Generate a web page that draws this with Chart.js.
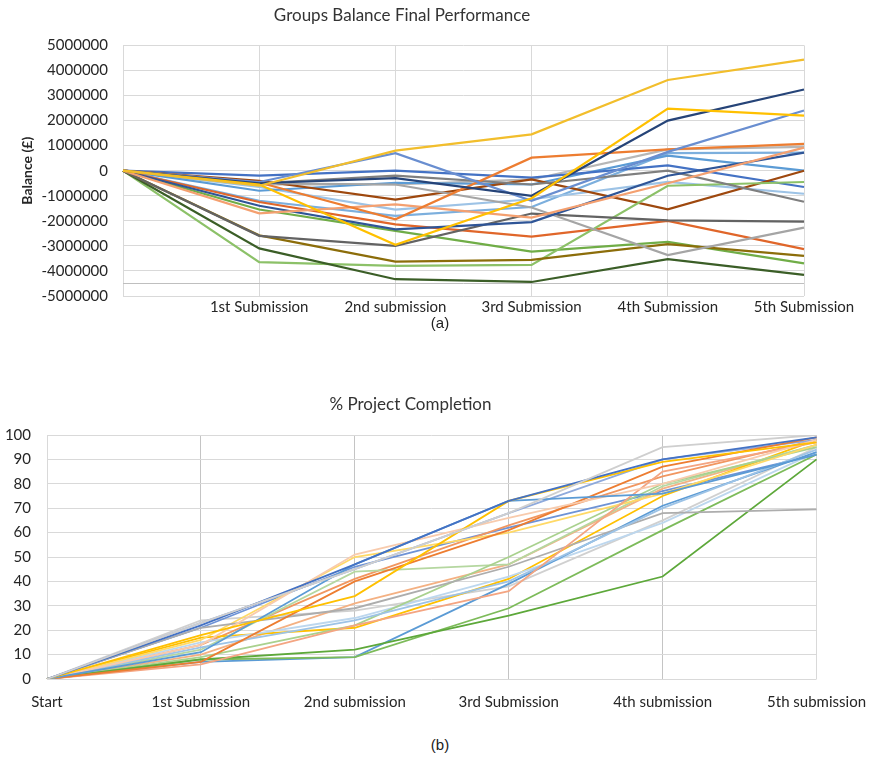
<!DOCTYPE html>
<html>
<head>
<meta charset="utf-8">
<script src="https://cdn.jsdelivr.net/npm/chart.js@4.4.1/dist/chart.umd.min.js"></script>
<style>
  html, body { margin: 0; padding: 0; background: #fff; }
  body { width: 880px; height: 766px; position: relative; overflow: hidden; font-family: 'Liberation Sans', Arial, sans-serif; }
  .wrap { position: absolute; left: 0; width: 880px; }
  #wrap-a { top: 0; height: 320px; }
  #wrap-b { top: 380px; height: 340px; }
  .cap { position: absolute; left: 0; width: 880px; text-align: center; font-size: 15px; color: #222; }
</style>
</head>
<body>
<div class="wrap" id="wrap-a"><canvas id="chart-balance"></canvas></div>
<div class="cap" style="top:314px">(a)</div>
<div class="wrap" id="wrap-b"><canvas id="chart-completion"></canvas></div>
<div class="cap" style="top:736px">(b)</div>
<script>
// ---- (a) group balance, £ ----
const balanceLabels = ['', '1st Submission', '2nd submission', '3rd Submission', '4th Submission', '5th Submission'];
const balanceTicks = { min: -5000000, max: 5000000, step: 1000000 };
const balanceAxisLine = -4500000;

const bal01 = [0, -600000, 800000, 1450000, 3620000, 4430000];
const bal02 = [0, -550000, -2960000, -1100000, 2480000, 2200000];
const bal03 = [0, -500000, -300000, -1000000, 2000000, 3240000];
const bal04 = [0, -450000, 700000, -1200000, 750000, 2400000];
const bal05 = [0, -470000, -1940000, 520000, 850000, 1070000];
const bal06 = [0, -1700000, -1340000, -1870000, -500000, 920000];
const bal07 = [0, -1400000, -2340000, -2050000, -200000, 720000];
const bal08 = [0, -500000, -550000, -1470000, -3370000, -2270000];
const bal09 = [0, -500000, -200000, -550000, 0, -1240000];
const bal10 = [0, -2600000, -3000000, -1710000, -1980000, -2030000];
const bal11 = [0, -2580000, -3630000, -3560000, -2930000, -3400000];
const bal12 = [0, -3100000, -4330000, -4440000, -3530000, -4160000];
const bal13 = [0, -3650000, -3800000, -3760000, -600000, -450000];
const bal14 = [0, -1550000, -2400000, -3230000, -2840000, -3700000];
const bal15 = [0, -1250000, -2140000, -2630000, -2000000, -3130000];
const bal16 = [0, -400000, -1150000, -350000, -1540000, 0];
const bal17 = [0, -200000, 0, -280000, 210000, -650000];
const bal18 = [0, -800000, -480000, -550000, 600000, 0];
const bal19 = [0, -650000, -1550000, -1140000, -450000, -920000];
const bal20 = [0, -550000, -550000, -350000, 850000, 950000];
const bal21 = [0, -1200000, -1800000, -1450000, 700000, 720000];

const balanceSeries = [bal01, bal02, bal03, bal04, bal05, bal06, bal07, bal08, bal09, bal10, bal11,
  bal12, bal13, bal14, bal15, bal16, bal17, bal18, bal19, bal20, bal21];
const balanceColors = ['#F2BE2C', '#FFC000', '#264478', '#698ED0', '#ED7D31', '#F4A070', '#2F5597',
  '#A5A5A5', '#7F7F7F', '#636363', '#8C6D0A', '#3B5E27', '#8CC168', '#70AD47', '#E0662A', '#9E480E',
  '#4472C4', '#5B9BD5', '#9DC3E6', '#B7B7B7', '#7CAFDD'];

// ---- (b) % project completion ----
const completionLabels = ['Start', '1st Submission', '2nd submission', '3rd Submission', '4th submission', '5th submission'];

const pc01 = [0, 23, 45, 68, 95, 100];
const pc02 = [0, 22, 47, 73, 90, 99];
const pc03 = [0, 18, 34, 73, 89, 97];
const pc04 = [0, 11, 47, 73, 76, 92];
const pc05 = [0, 14, 51, 66, 80, 98];
const pc06 = [0, 7, 40, 61, 87, 99];
const pc07 = [0, 6, 22, 36, 85, 97];
const pc08 = [0, 13, 24, 40, 70, 94];
const pc09 = [0, 21, 29, 46, 68, 69.5];
const pc10 = [0, 8, 12, 26, 42, 90];
const pc11 = [0, 8, 9, 29, 61, 92];
const pc12 = [0, 7, 9, 39, 71, 93];
const pc13 = [0, 16, 50, 60, 76, 96];
const pc14 = [0, 9, 22, 50, 80, 95];
const pc15 = [0, 12, 44, 47, 79, 96];
const pc16 = [0, 23, 45, 68, 90, 98];
const pc17 = [0, 15, 25, 42, 64, 93];
const pc18 = [0, 17, 21, 41, 75, 98];
const pc19 = [0, 10, 31, 47, 78, 96];
const pc20 = [0, 14, 41, 63, 83, 98];
const pc21 = [0, 21, 46, 62, 77, 92];
const pc22 = [0, 24, 28, 38, 65, 95];

const completionSeries = [pc01, pc02, pc03, pc04, pc05, pc06, pc07, pc08, pc09, pc10, pc11,
  pc12, pc13, pc14, pc15, pc16, pc17, pc18, pc19, pc20, pc21, pc22];
const completionColors = ['#CFCFCF', '#4472C4', '#FFC000', '#5B9BD5', '#F8CBAD', '#ED7D31', '#F4A582',
  '#9DC3E6', '#ADADAD', '#5DA83A', '#7DBB5A', '#5B9BD5', '#FFD966', '#A9D18E', '#B5D7A0', '#8FAADC',
  '#BDD7EE', '#FFC000', '#F4B183', '#F19660', '#6E93D6', '#D0D0D0'];

Chart.defaults.font.family = "Lato, 'Open Sans', sans-serif";
Chart.defaults.color = '#262626';

// pins axis sizes so the plot area lands where the original one sits
const fixSize = (w) => (scale) => { scale.width = w; };
const fixHeight = (h) => (scale) => { scale.height = h; };

const axisLinePlugin = {
  id: 'axisLine',
  afterDatasetsDraw(chart, args, opts) {
    if (opts.value === undefined) return;
    const { ctx, chartArea, scales } = chart;
    const y = Math.round(scales.y.getPixelForValue(opts.value)) + 0.5;
    ctx.save();
    ctx.strokeStyle = '#bfbfbf';
    ctx.lineWidth = 1;
    ctx.beginPath();
    ctx.moveTo(chartArea.left, y);
    ctx.lineTo(chartArea.right, y);
    ctx.stroke();
    ctx.restore();
  }
};

function makeSets(series, colors, width) {
  return series.map((data, i) => ({
    data: data,
    borderColor: colors[i],
    backgroundColor: colors[i],
    borderWidth: width,
    pointRadius: 0,
    tension: 0,
    fill: false
  }));
}

new Chart(document.getElementById('chart-balance'), {
  type: 'line',
  data: { labels: balanceLabels, datasets: makeSets(balanceSeries, balanceColors, 2.2) },
  plugins: [axisLinePlugin],
  options: {
    responsive: true,
    maintainAspectRatio: false,
    animation: false,
    layout: { padding: { left: 0, right: 76, top: 0, bottom: 0 } },
    plugins: {
      legend: { display: false },
      tooltip: { enabled: false },
      title: {
        display: true,
        text: 'Groups Balance Final Performance',
        color: '#333',
        font: { size: 17, weight: 'normal' },
        padding: { top: 5, bottom: 20 }
      },
      axisLine: { value: balanceAxisLine }
    },
    scales: {
      x: {
        offset: false,
        afterFit: fixHeight(23),
        grid: { color: '#d9d9d9', drawTicks: false },
        border: { display: false },
        ticks: { autoSkip: false, maxRotation: 0, padding: 2, font: { size: 15 }, color: '#262626' }
      },
      y: {
        min: balanceTicks.min,
        max: balanceTicks.max,
        afterFit: fixSize(123),
        grid: { color: '#d9d9d9', drawTicks: false },
        border: { display: false },
        title: {
          display: true,
          text: 'Balance (£)',
          color: '#262626',
          font: { size: 14, weight: 'bold' },
          padding: { top: 19, bottom: 0 }
        },
        ticks: {
          stepSize: balanceTicks.step,
          padding: 15,
          font: { size: 15 },
          color: '#262626',
          callback: (v) => String(v)
        }
      }
    }
  }
});

new Chart(document.getElementById('chart-completion'), {
  type: 'line',
  data: { labels: completionLabels, datasets: makeSets(completionSeries, completionColors, 1.8) },
  options: {
    responsive: true,
    maintainAspectRatio: false,
    animation: false,
    layout: { padding: { left: 0, right: 59, top: 0, bottom: 0 } },
    plugins: {
      legend: { display: false },
      tooltip: { enabled: false },
      title: {
        display: true,
        text: '% Project Completion',
        color: '#333',
        font: { size: 17, weight: 'normal' },
        padding: { top: 14, bottom: 20.6 }
      }
    },
    scales: {
      x: {
        offset: false,
        afterFit: fixHeight(41),
        grid: {
          color: (ctx) => (ctx.index === 0 || ctx.index === completionLabels.length - 1) ? '#d9d9d9' : '#c4c4c4',
          drawTicks: false
        },
        border: { display: false },
        ticks: { autoSkip: false, maxRotation: 0, padding: 14, font: { size: 15 }, color: '#262626' }
      },
      y: {
        min: 0,
        max: 100,
        afterFit: fixSize(47),
        grid: { color: '#d9d9d9', drawTicks: false },
        border: { display: false },
        ticks: { stepSize: 10, padding: 16, font: { size: 15 }, color: '#262626' }
      }
    }
  }
});
</script>
</body>
</html>
